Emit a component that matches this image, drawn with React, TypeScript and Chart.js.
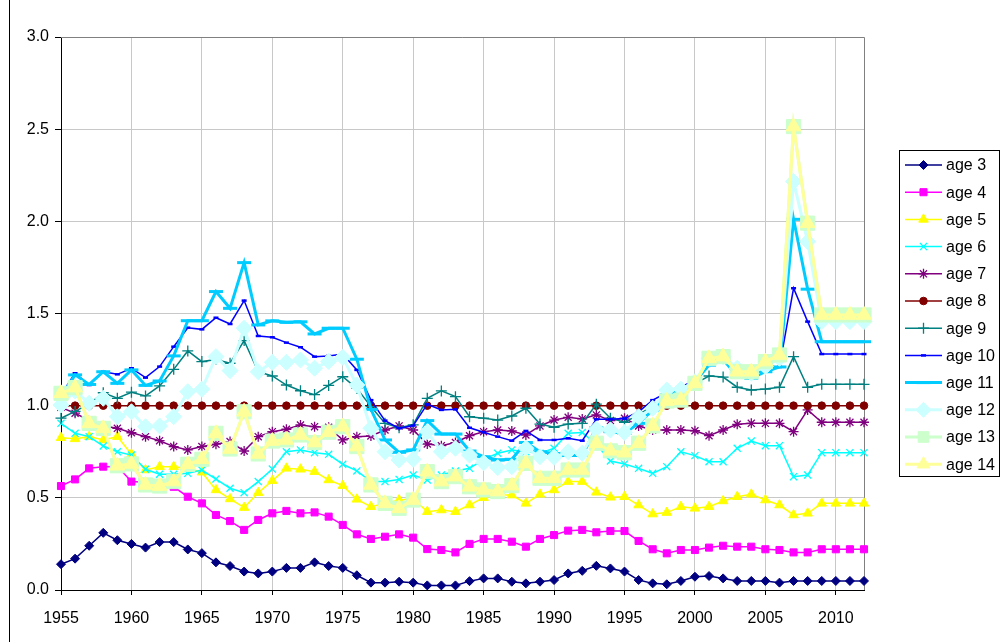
import React, { useEffect, useRef } from 'react';
import { Chart, registerables } from 'chart.js';
import { drawPoint } from 'chart.js/helpers';

Chart.register(...registerables);

const years = [
  1955, 1956, 1957, 1958, 1959, 1960, 1961, 1962, 1963, 1964,
  1965, 1966, 1967, 1968, 1969, 1970, 1971, 1972, 1973, 1974,
  1975, 1976, 1977, 1978, 1979, 1980, 1981, 1982, 1983, 1984,
  1985, 1986, 1987, 1988, 1989, 1990, 1991, 1992, 1993, 1994,
  1995, 1996, 1997, 1998, 1999, 2000, 2001, 2002, 2003, 2004,
  2005, 2006, 2007, 2008, 2009, 2010, 2011, 2012,
];

const age3 = [
  0.14, 0.17, 0.24, 0.31, 0.27, 0.25, 0.23, 0.26, 0.26, 0.22,
  0.20, 0.15, 0.13, 0.10, 0.09, 0.10, 0.12, 0.12, 0.15, 0.13,
  0.12, 0.08, 0.04, 0.04, 0.045, 0.04, 0.025, 0.025, 0.025, 0.048,
  0.063, 0.063, 0.045, 0.036, 0.045, 0.054, 0.09, 0.104, 0.131, 0.117,
  0.10, 0.054, 0.036, 0.031, 0.049, 0.072, 0.076, 0.063, 0.049, 0.049,
  0.049, 0.04, 0.049, 0.049, 0.049, 0.049, 0.049, 0.049,
];
const age4 = [
  0.564, 0.60, 0.66, 0.669, 0.67, 0.588, 0.585, 0.58, 0.56, 0.506,
  0.47, 0.407, 0.374, 0.326, 0.38, 0.416, 0.429, 0.416, 0.421, 0.398,
  0.353, 0.302, 0.277, 0.289, 0.302, 0.284, 0.222, 0.217, 0.204, 0.25,
  0.277, 0.277, 0.262, 0.235, 0.277, 0.298, 0.322, 0.326, 0.313, 0.32,
  0.32, 0.266, 0.221, 0.199, 0.217, 0.217, 0.23, 0.24, 0.235, 0.235,
  0.221, 0.217, 0.204, 0.204, 0.221, 0.221, 0.221, 0.221,
];
const age5 = [
  0.826, 0.82, 0.832, 0.814, 0.832, 0.736, 0.651, 0.669, 0.669, 0.66,
  0.639, 0.543, 0.494, 0.447, 0.528, 0.593, 0.66, 0.655, 0.642, 0.597,
  0.566, 0.492, 0.452, 0.47, 0.488, 0.495, 0.425, 0.434, 0.425, 0.461,
  0.501, 0.515, 0.515, 0.47, 0.519, 0.543, 0.588, 0.588, 0.53, 0.503,
  0.506, 0.461, 0.412, 0.42, 0.452, 0.443, 0.452, 0.483, 0.506, 0.519,
  0.488, 0.461, 0.407, 0.416, 0.47, 0.47, 0.47, 0.47,
];
const age6 = [
  0.904, 0.85, 0.832, 0.781, 0.75, 0.732, 0.655, 0.628, 0.628, 0.633,
  0.651, 0.602, 0.552, 0.528, 0.588, 0.656, 0.75, 0.76, 0.745, 0.736,
  0.682, 0.646, 0.588, 0.588, 0.60, 0.624, 0.597, 0.624, 0.645, 0.66,
  0.709, 0.742, 0.76, 0.75, 0.742, 0.769, 0.85, 0.855, 0.79, 0.70,
  0.684, 0.66, 0.633, 0.669, 0.75, 0.729, 0.696, 0.696, 0.769, 0.808,
  0.783, 0.783, 0.615, 0.624, 0.745, 0.745, 0.745, 0.745,
];
const age7 = [
  0.991, 0.959, 0.92, 0.89, 0.877, 0.853, 0.832, 0.81, 0.778, 0.76,
  0.778, 0.791, 0.805, 0.754, 0.832, 0.859, 0.872, 0.895, 0.886, 0.883,
  0.814, 0.832, 0.836, 0.868, 0.89, 0.868, 0.792, 0.783, 0.80, 0.837,
  0.859, 0.868, 0.863, 0.841, 0.89, 0.922, 0.937, 0.928, 0.95, 0.919,
  0.932, 0.89, 0.868, 0.868, 0.868, 0.864, 0.837, 0.868, 0.899, 0.904,
  0.904, 0.904, 0.859, 0.977, 0.91, 0.91, 0.91, 0.91,
];
const age8 = [
  1, 1, 1, 1, 1, 1, 1, 1, 1, 1,
  1, 1, 1, 1, 1, 1, 1, 1, 1, 1,
  1, 1, 1, 1, 1, 1, 1, 1, 1, 1,
  1, 1, 1, 1, 1, 1, 1, 1, 1, 1,
  1, 1, 1, 1, 1, 1, 1, 1, 1, 1,
  1, 1, 1, 1, 1, 1, 1, 1,
];
const age9 = [
  0.932, 0.969, 1.01, 1.07, 1.04, 1.073, 1.053, 1.107, 1.197, 1.297,
  1.239, 1.25, 1.23, 1.353, 1.184, 1.161, 1.112, 1.081, 1.06, 1.11,
  1.157, 1.094, 0.995, 0.904, 0.88, 0.896, 1.04, 1.08, 1.049, 0.94,
  0.932, 0.922, 0.944, 0.986, 0.9, 0.883, 0.9, 0.904, 1.008, 0.932,
  0.91, 0.95, 1.0, 1.05, 1.09, 1.12, 1.161, 1.155, 1.1, 1.085,
  1.09, 1.1, 1.266, 1.1, 1.116, 1.116, 1.116, 1.116,
];
const age10 = [
  1.06, 1.176, 1.112, 1.184, 1.17, 1.203, 1.152, 1.212, 1.32, 1.423,
  1.414, 1.477, 1.443, 1.57, 1.378, 1.371, 1.342, 1.317, 1.266, 1.27,
  1.28, 1.194, 1.03, 0.919, 0.877, 0.892, 1.008, 0.977, 0.98, 0.88,
  0.856, 0.832, 0.81, 0.863, 0.814, 0.814, 0.823, 0.81, 0.926, 0.926,
  0.93, 0.967, 1.03, 1.07, 1.1, 1.14, 1.23, 1.248, 1.167, 1.16,
  1.194, 1.21, 1.637, 1.456, 1.28, 1.28, 1.28, 1.28,
];
const age11 = [
  1.05, 1.167, 1.115, 1.184, 1.121, 1.194, 1.11, 1.134, 1.27, 1.461,
  1.461, 1.619, 1.528, 1.776, 1.438, 1.46, 1.452, 1.455, 1.389, 1.42,
  1.42, 1.252, 0.98, 0.814, 0.747, 0.76, 0.919, 0.846, 0.846, 0.754,
  0.723, 0.705, 0.709, 0.80, 0.75, 0.74, 0.73, 0.73, 0.88, 0.859,
  0.85, 0.904, 0.977, 1.058, 1.08, 1.13, 1.22, 1.25, 1.16, 1.149,
  1.184, 1.21, 2.011, 1.632, 1.347, 1.347, 1.347, 1.347,
];
const age12 = [
  1.004, 1.08, 1.013, 1.04, 0.94, 0.967, 0.886, 0.89, 0.94, 1.076,
  1.089, 1.266, 1.19, 1.42, 1.184, 1.235, 1.235, 1.248, 1.203, 1.24,
  1.262, 1.112, 0.877, 0.75, 0.705, 0.709, 0.859, 0.75, 0.769, 0.732,
  0.69, 0.664, 0.669, 0.769, 0.723, 0.72, 0.75, 0.742, 0.873, 0.868,
  0.855, 0.94, 0.986, 1.085, 1.09, 1.13, 1.257, 1.266, 1.203, 1.176,
  1.212, 1.257, 2.216, 1.89, 1.456, 1.456, 1.456, 1.456,
];
const age13 = [
  1.067, 1.098, 0.904, 0.877, 0.674, 0.684, 0.57, 0.564, 0.588, 0.682,
  0.709, 0.85, 0.765, 0.967, 0.738, 0.808, 0.814, 0.841, 0.80, 0.856,
  0.886, 0.778, 0.57, 0.47, 0.443, 0.488, 0.642, 0.588, 0.615, 0.56,
  0.543, 0.534, 0.566, 0.687, 0.606, 0.606, 0.651, 0.651, 0.796, 0.755,
  0.745, 0.796, 0.89, 1.025, 1.03, 1.121, 1.257, 1.266, 1.184, 1.184,
  1.239, 1.275, 2.514, 1.99, 1.492, 1.492, 1.492, 1.492,
];
const age14 = [
  1.067, 1.098, 0.904, 0.877, 0.674, 0.684, 0.57, 0.564, 0.588, 0.682,
  0.709, 0.85, 0.765, 0.967, 0.738, 0.808, 0.814, 0.841, 0.80, 0.856,
  0.886, 0.778, 0.57, 0.47, 0.443, 0.488, 0.642, 0.588, 0.615, 0.56,
  0.543, 0.534, 0.566, 0.687, 0.606, 0.606, 0.651, 0.651, 0.796, 0.755,
  0.745, 0.796, 0.89, 1.025, 1.03, 1.121, 1.257, 1.266, 1.184, 1.184,
  1.239, 1.275, 2.514, 1.99, 1.492, 1.492, 1.492, 1.492,
];

const seriesNames = ['age 3', 'age 4', 'age 5', 'age 6', 'age 7', 'age 8', 'age 9', 'age 10', 'age 11', 'age 12', 'age 13', 'age 14'];
const seriesValues = [age3, age4, age5, age6, age7, age8, age9, age10, age11, age12, age13, age14];

const yTicks = [0, 0.5, 1, 1.5, 2, 2.5, 3];

const FONT = '"Liberation Sans", Arial, sans-serif';

const looks = [
  { color: '#000080', style: 'rectRot', r: 4.5, lw: 1.5, pw: 1 },
  { color: '#FF00FF', style: 'rect', r: 5, lw: 1.5, pw: 1 },
  { color: '#FFFF00', style: 'triangle', r: 5.5, lw: 1.5, pw: 1 },
  { color: '#00FFFF', style: 'crossRot', r: 5, lw: 1.5, pw: 1.3 },
  { color: '#800080', style: 'star', r: 5, lw: 1.5, pw: 1.3 },
  { color: '#800000', style: 'circle', r: 3.8, lw: 1.5, pw: 1 },
  { color: '#008080', style: 'cross', r: 5.5, lw: 1.5, pw: 1.3 },
  { color: '#0000FF', style: 'line', r: 2.5, lw: 1.5, pw: 2.5 },
  { color: '#00CCFF', style: 'line', r: 7, lw: 3, pw: 3 },
  { color: '#CCFFFF', style: 'rectRot', r: 8, lw: 3, pw: 1 },
  { color: '#CCFFCC', style: 'rect', r: 10, lw: 3, pw: 1 },
  { color: '#FFFF99', style: 'triangle', r: 8.5, lw: 3, pw: 1 },
];

const decorPlugin = {
  id: 'decor',
  beforeDatasetsDraw(chart: any) {
    const ctx = chart.ctx;
    const a = chart.chartArea;
    ctx.save();
    ctx.strokeStyle = '#808080';
    ctx.lineWidth = 1;
    ctx.beginPath();
    ctx.moveTo(a.left, a.top + 0.5);
    ctx.lineTo(a.right + 0.5, a.top + 0.5);
    ctx.lineTo(a.right + 0.5, a.bottom);
    ctx.stroke();
    ctx.restore();
  },
  afterDraw(chart: any) {
    const ctx = chart.ctx;
    ctx.save();
    ctx.strokeStyle = '#000';
    ctx.lineWidth = 1;
    ctx.beginPath();
    ctx.moveTo(9.5, 0);
    ctx.lineTo(9.5, 642);
    ctx.stroke();
    ctx.fillStyle = '#fff';
    ctx.fillRect(899, 150, 101, 326);
    ctx.strokeRect(899.5, 150.5, 100, 326);
    ctx.font = '16px ' + FONT;
    ctx.textBaseline = 'middle';
    ctx.textAlign = 'left';
    seriesNames.forEach((name, i) => {
      const lk = looks[i];
      const y = 165 + i * 27.2;
      ctx.strokeStyle = lk.color;
      ctx.lineWidth = lk.lw;
      ctx.beginPath();
      ctx.moveTo(905, y);
      ctx.lineTo(942, y);
      ctx.stroke();
      ctx.fillStyle = lk.color;
      ctx.strokeStyle = lk.color;
      ctx.lineWidth = lk.pw;
      drawPoint(ctx, { pointStyle: lk.style, radius: Math.min(lk.r, 7.5), borderWidth: lk.pw, rotation: 0 }, 923.5, y);
      ctx.fillStyle = '#000';
      ctx.fillText(name, 946, y + 1);
    });
    ctx.restore();
  },
};

export default function App() {
  const ref = useRef<HTMLCanvasElement | null>(null);
  useEffect(() => {
    if (!ref.current) return;
    Chart.defaults.font.family = FONT;
    Chart.defaults.font.size = 16;
    Chart.defaults.color = '#000';
    const n = seriesNames.length;
    const datasets = seriesNames.map((name, i) => {
      const lk = looks[i];
      return {
        label: name,
        data: years.map((yr, k) => ({ x: yr, y: seriesValues[i][k] })),
        borderColor: lk.color,
        backgroundColor: lk.color,
        borderWidth: lk.lw,
        pointStyle: lk.style,
        pointRadius: lk.r,
        pointBorderWidth: lk.pw,
        pointBackgroundColor: lk.color,
        pointBorderColor: lk.color,
        tension: 0,
        clip: false,
        order: n - i,
      };
    });
    const chart = new Chart(ref.current, {
      type: 'line',
      data: { datasets },
      options: {
        responsive: false,
        animation: false,
        events: [],
        layout: { padding: { left: 0, top: 37, right: 137, bottom: 0 } },
        plugins: {
          legend: { display: false },
          tooltip: { enabled: false },
        },
        scales: {
          x: {
            type: 'linear',
            min: 1955,
            max: 2012,
            afterFit: (s: any) => { s.height = 52; },
            ticks: {
              stepSize: 5,
              includeBounds: false,
              padding: 14,
              font: { size: 16, family: FONT },
              color: '#000',
              callback: (v: any) => String(v),
            },
            grid: { color: '#c8c8c8', tickColor: '#000', tickLength: 5, lineWidth: 1 },
            border: { color: '#000', width: 1 },
          },
          y: {
            type: 'linear',
            min: 0,
            max: 3,
            afterFit: (s: any) => { s.width = 61; },
            afterBuildTicks: (s: any) => { s.ticks = yTicks.map((v) => ({ value: v })); },
            ticks: {
              padding: 6,
              font: { size: 16, family: FONT },
              color: '#000',
              callback: (v: any) => Number(v).toFixed(1),
            },
            grid: { color: '#c8c8c8', tickColor: '#000', tickLength: 6, lineWidth: 1 },
            border: { color: '#000', width: 1 },
          },
        },
      },
      plugins: [decorPlugin],
    } as any);
    return () => chart.destroy();
  }, []);
  return (
    <div style={{ position: 'fixed', left: 0, top: 0, width: 1001, height: 642, background: '#fff' }}>
      <canvas ref={ref} width={1001} height={642} style={{ display: 'block', width: 1001, height: 642 }} />
    </div>
  );
}
